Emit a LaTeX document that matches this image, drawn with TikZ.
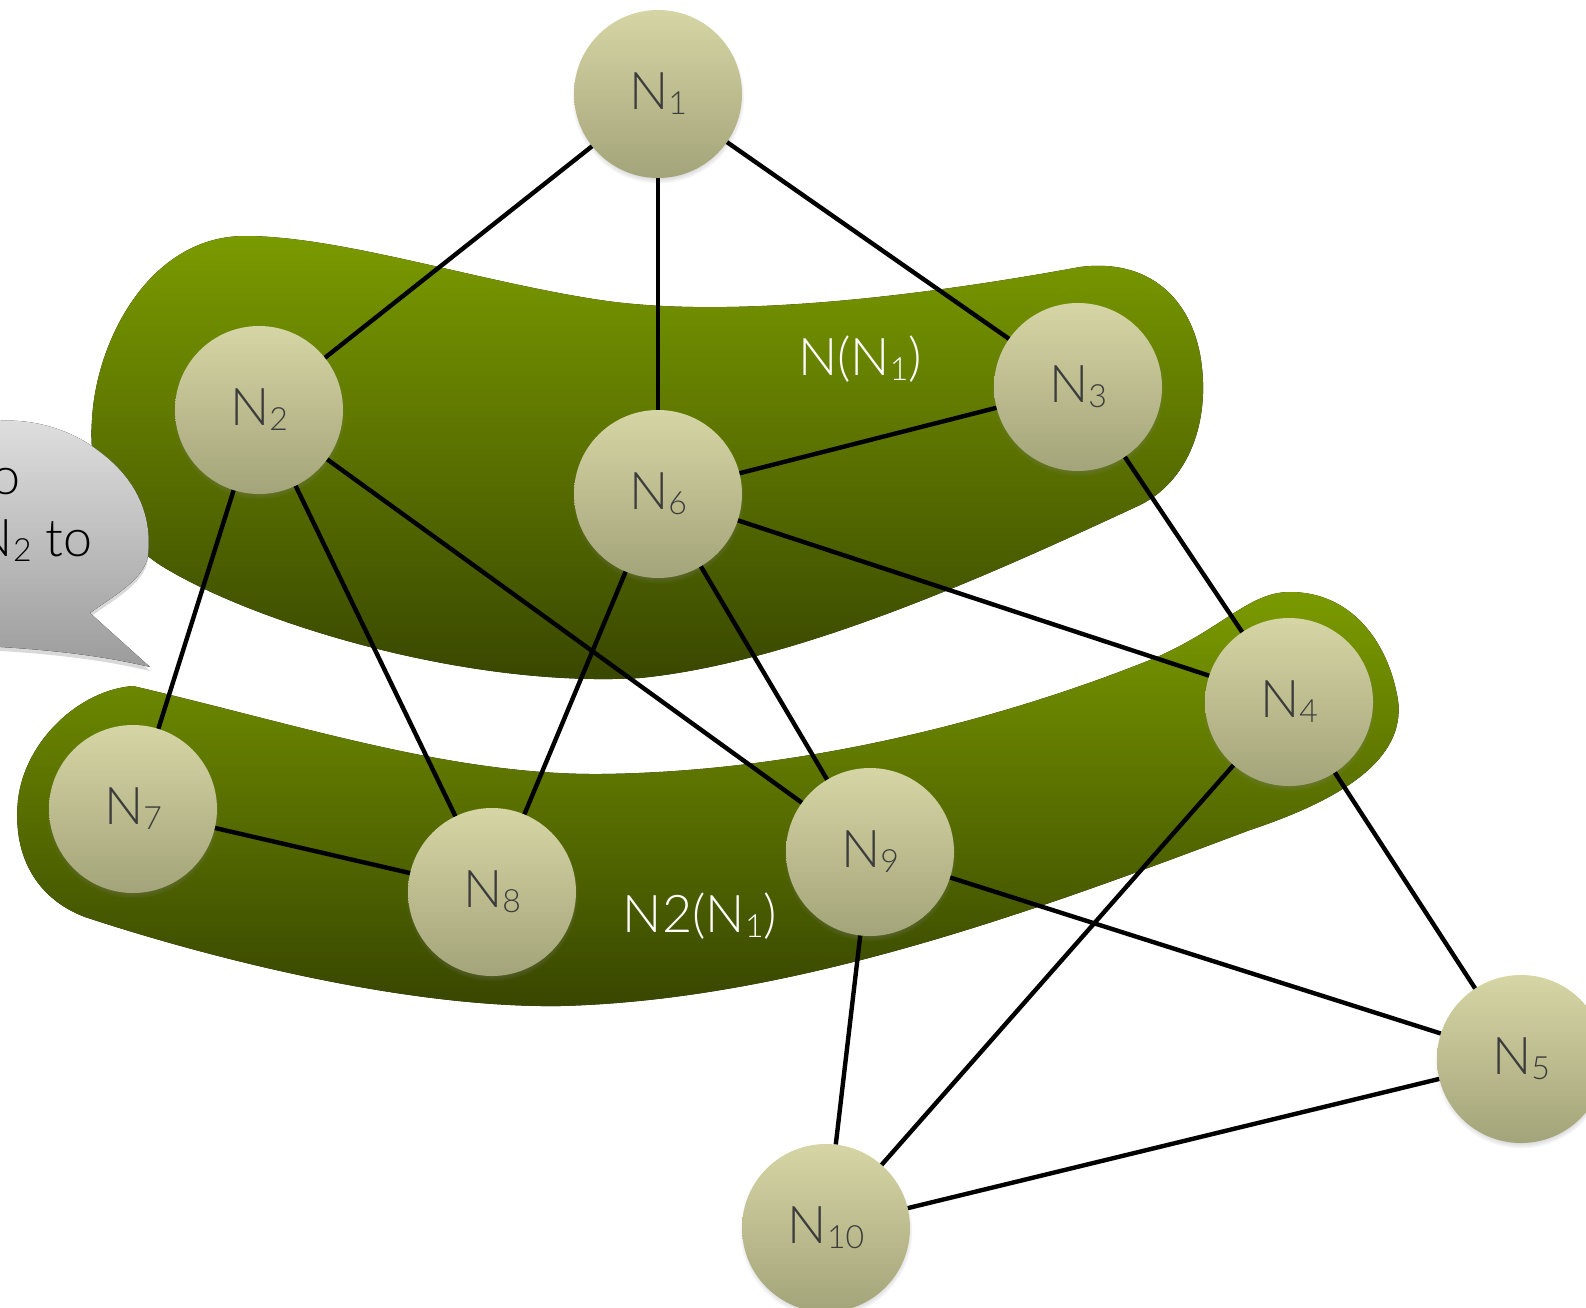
\documentclass[tikz,border=0pt]{standalone}
\usepackage{fontspec}
\setmainfont{Lato}
\newfontfamily\thinfont{Lato Light}
\usetikzlibrary{shadows}
\definecolor{blobtop}{RGB}{122,154,0}
\definecolor{blobbot}{RGB}{56,70,0}
\definecolor{balltop}{RGB}{213,213,165}
\definecolor{ballbot}{RGB}{164,164,122}
\definecolor{balltext}{RGB}{60,60,60}
\definecolor{bubtop}{RGB}{224,224,224}
\definecolor{bubbot}{RGB}{156,156,156}
\newcommand{\nsub}[1]{\raisebox{-5pt}{\fontsize{32}{32}\selectfont #1}}
\newcommand{\nlabel}[1]{N\nsub{#1}}

\begin{document}
\begin{tikzpicture}[x=1pt,y=-1pt,
  ball/.style={circle,minimum size=168pt,inner sep=0pt,top color=balltop,bottom color=ballbot,
    circular drop shadow={shadow scale=1.03,shadow xshift=0pt,shadow yshift=-3pt,opacity=0.6},
    text=balltext,font=\thinfont\fontsize{52}{52}\selectfont},
  link/.style={line width=4.4pt},
  blob/.style={top color=blobtop,bottom color=blobbot},
  setname/.style={text=white,font=\thinfont\fontsize{52}{52}\selectfont}]
\useasboundingbox (0,0) rectangle (1586,1307);
% first neighbourhood
\fill[blob] (245,236) .. controls (340,236) and (480,282) .. (600,300)
  .. controls (720,318) and (900,300) .. (1080,267)
  .. controls (1150,258) and (1192,300) .. (1201,360)
  .. controls (1210,420) and (1190,480) .. (1140,505)
  .. controls (1000,570) and (800,662) .. (640,678)
  .. controls (470,688) and (260,625) .. (165,568)
  .. controls (105,532) and (88,470) .. (92,420)
  .. controls (96,340) and (150,236) .. (245,236) -- cycle;
% second neighbourhood
\fill[blob] (133,686) .. controls (300,725) and (450,775) .. (600,774)
  .. controls (800,772) and (1000,720) .. (1150,660)
  .. controls (1222,630) and (1248,592) .. (1290,592)
  .. controls (1350,592) and (1388,640) .. (1398,700)
  .. controls (1406,760) and (1340,800) .. (1250,830)
  .. controls (1050,905) and (800,1000) .. (560,1006)
  .. controls (400,1008) and (200,955) .. (85,917)
  .. controls (40,900) and (12,860) .. (18,800)
  .. controls (25,740) and (80,690) .. (133,686) -- cycle;
\node[setname] (nn1) at (860,359) {N(\nlabel{1})};
\node[setname] (nn2) at (700,916) {N2(\nlabel{1})};
\node[ball] (n1) at (658,94) {\nlabel{1}};
\node[ball] (n2) at (259,410) {\nlabel{2}};
\node[ball] (n3) at (1078,387) {\nlabel{3}};
\node[ball] (n6) at (658,494) {\nlabel{6}};
\node[ball] (n4) at (1289,702) {\nlabel{4}};
\node[ball] (n7) at (133,809) {\nlabel{7}};
\node[ball] (n8) at (492,892) {\nlabel{8}};
\node[ball] (n9) at (870,852) {\nlabel{9}};
\node[ball] (n5) at (1521,1059) {\nlabel{5}};
\node[ball] (n10) at (826,1228) {\nlabel{10}};
\draw[link] (n1) -- (n2);
\draw[link] (n1) -- (n6);
\draw[link] (n1) -- (n3);
\draw[link] (n2) -- (n7);
\draw[link] (n2) -- (n8);
\draw[link] (n2) -- (n9);
\draw[link] (n6) -- (n3);
\draw[link] (n6) -- (n8);
\draw[link] (n6) -- (n9);
\draw[link] (n6) -- (n4);
\draw[link] (n3) -- (n4);
\draw[link] (n7) -- (n8);
\draw[link] (n4) -- (n10);
\draw[link] (n4) -- (n5);
\draw[link] (n9) -- (n5);
\draw[link] (n9) -- (n10);
\draw[link] (n5) -- (n10);
% callout on the left
\fill[top color=bubtop,bottom color=bubbot,drop shadow={opacity=0.3,shadow xshift=0pt,shadow yshift=-4pt}]
  (-40,430) .. controls (0,412) and (60,420) .. (100,452) .. controls (140,482) and (152,520) .. (148,555)
  .. controls (145,580) and (110,598) .. (90,613) -- (150,667) .. controls (100,655) and (40,648) .. (-40,645) -- cycle;
\node[anchor=base east,font=\thinfont\fontsize{52}{52}\selectfont] (say1) at (24,494) {o};
\node[anchor=base east,font=\thinfont\fontsize{52}{52}\selectfont] (say2) at (96,556) {\nlabel{2} to};
\end{tikzpicture}
\end{document}
